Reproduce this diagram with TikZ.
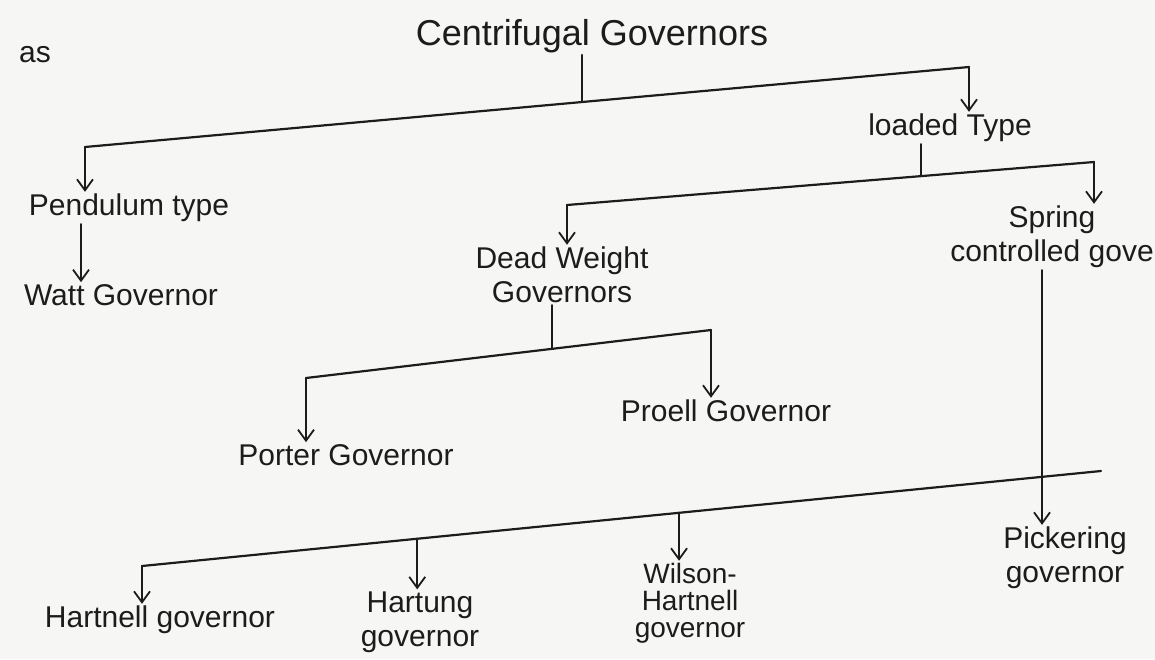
\documentclass[tikz,border=0pt]{standalone}
\usepackage{fontspec}
\setmainfont{Liberation Sans}
\usetikzlibrary{arrows.meta,calc}
\definecolor{cgInk}{HTML}{1C1C1C}
\definecolor{cgPaper}{HTML}{F6F6F4}
\tikzset{
  cg line/.style={draw=cgInk, line width=2.2pt, line cap=round},
  cg arrow/.style={cg line, -{Straight Barb[length=11pt,width=16pt,line width=1.8pt]}},
  cg label/.style={font=\fontsize{30}{34}\selectfont, text=cgInk, align=center, inner sep=2pt},
  cg root/.style={cg label, font=\fontsize{36}{40}\selectfont},
  cg tight/.style={cg label, font=\fontsize{28}{27}\selectfont},
}

\begin{document}
\begin{tikzpicture}[x=1pt, y=-1pt]
  \fill[cgPaper] (0,0) rectangle (1155,659);
  \useasboundingbox (0,0) rectangle (1155,659);

  % labels
  \node[cg label] (as) at (35,55) {as};
  \node[cg root] (root) at (592,36) {Centrifugal Governors};
  \node[cg label] (loaded) at (950,128) {loaded Type};
  \node[cg label] (pend) at (129,208) {Pendulum type};
  \node[cg label] (watt) at (121,295) {Watt Governor};
  \node[cg label] (dead) at (562,275) {Dead Weight\\Governors};
  \node[cg label] (spring) at (1052,237) {Spring\\controlled gove};
  \node[cg label] (proell) at (726,411) {Proell Governor};
  \node[cg label] (porter) at (346,455) {Porter Governor};
  \node[cg label] (pick) at (1065,558) {Pickering\\governor};
  \node[cg label] (hartnell) at (160,620) {Hartnell governor};
  \node[cg label] (hartung) at (420,622) {Hartung\\governor};
  \node[cg tight] (wilson) at (690,603) {Wilson-\\Hartnell\\governor};

  % branch bars
  \coordinate (b1l) at (85,147);
  \coordinate (b1r) at (969,67);
  \coordinate (b1m) at ($(b1l)!0.562!(b1r)$);
  \coordinate (b2l) at (567,205);
  \coordinate (b2r) at (1094,162);
  \coordinate (b2m) at ($(b2l)!0.672!(b2r)$);
  \coordinate (b3l) at (306,378);
  \coordinate (b3r) at (711,330);
  \coordinate (b3m) at ($(b3l)!0.607!(b3r)$);
  \coordinate (b4l) at (142,566);
  \coordinate (b4r) at (1101,471);
  \coordinate (b4a) at ($(b4l)!0.287!(b4r)$);
  \coordinate (b4b) at ($(b4l)!0.56!(b4r)$);
  \coordinate (sx) at (1042,0);
  \coordinate (wx) at (81,0);

  \draw[cg line] (b1l) -- (b1r);
  \draw[cg line] (b2l) -- (b2r);
  \draw[cg line] (b3l) -- (b3r);
  \draw[cg line] (b4l) -- (b4r);

  % stems
  \draw[cg line] (b1m |- root.south) -- (b1m);
  \draw[cg line] (b2m |- loaded.south) -- (b2m);
  \draw[cg line] (b3m |- dead.south) -- (b3m);

  % arrows
  \draw[cg arrow] (b1l) -- (b1l |- pend.north);
  \draw[cg arrow] (b1r) -- (b1r |- loaded.north);
  \draw[cg arrow] (wx |- pend.south) -- (wx |- watt.north);
  \draw[cg arrow] (b2l) -- (b2l |- dead.north);
  \draw[cg arrow] (b2r) -- (b2r |- spring.north);
  \draw[cg arrow] (b3l) -- (b3l |- porter.north);
  \draw[cg arrow] (b3r) -- (b3r |- proell.north);
  \draw[cg arrow] (sx |- spring.south) -- (sx |- pick.north);
  \draw[cg arrow] (b4l) -- (b4l |- hartnell.north);
  \draw[cg arrow] (b4a) -- (b4a |- hartung.north);
  \draw[cg arrow] (b4b) -- (b4b |- wilson.north);
\end{tikzpicture}
\end{document}
